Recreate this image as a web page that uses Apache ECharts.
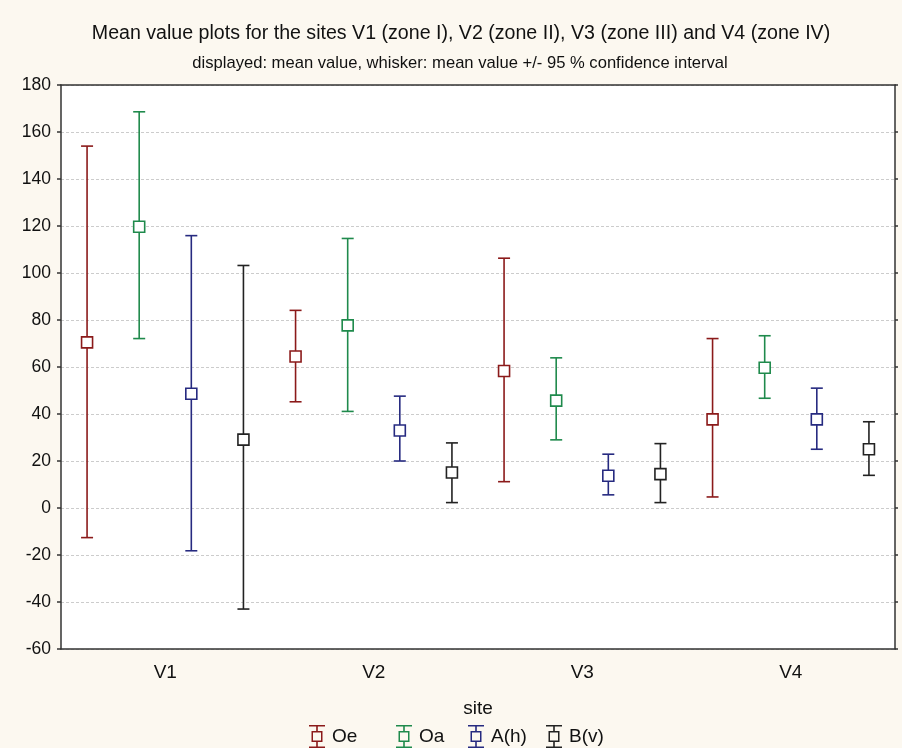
<!DOCTYPE html>
<html><head><meta charset="utf-8">
<script src="https://cdn.jsdelivr.net/npm/echarts@6/dist/echarts.min.js"></script>
<style>html,body{margin:0;padding:0;background:#fcf8f0;}#c{width:902px;height:748px;}</style>
</head><body><div id="c"></div>
<script>
const categories = ['V1', 'V2', 'V3', 'V4'];
const seriesNames = ['Oe', 'Oa', 'A(h)', 'B(v)'];
const seriesColors = ['#8b1a1a', '#1f8a4c', '#262a80', '#222222'];
// [mean, lower, upper] per site
const oeMean = [70.5, 64.5, 58.3, 37.7];
const oeLow  = [-12.6, 45.2, 11.2, 4.7];
const oeHigh = [154, 84.1, 106.3, 72.1];
const oaMean = [119.7, 77.7, 45.7, 59.7];
const oaLow  = [72.1, 41.1, 29.0, 46.7];
const oaHigh = [168.6, 114.7, 63.9, 73.3];
const ahMean = [48.6, 33.0, 13.7, 37.7];
const ahLow  = [-18.2, 20.0, 5.6, 25.0];
const ahHigh = [115.9, 47.6, 22.9, 51.0];
const bvMean = [29.1, 15.1, 14.4, 25.0];
const bvLow  = [-43.0, 2.3, 2.3, 13.9];
const bvHigh = [103.2, 27.7, 27.4, 36.7];
const yTicks = [-60, -40, -20, 0, 20, 40, 60, 80, 100, 120, 140, 160, 180];

const means = [oeMean, oaMean, ahMean, bvMean];
const lows = [oeLow, oaLow, ahLow, bvLow];
const highs = [oeHigh, oaHigh, ahHigh, bvHigh];

const FONT = 'Liberation Sans';
const icon = 'path://M0 0H16V1.6H0Z M7.2 1.6H8.8V6H7.2Z M2.5 6H13.5V17H2.5Z M4 7.5V15.5H12V7.5Z M7.2 17H8.8V21.4H7.2Z M0 21.4H16V23H0Z';

function makeRender(si) {
  return function (params, api) {
    const ci = api.value(0);
    const band = api.size([1, 0])[0];
    const x = api.coord([ci, 0])[0] + (si - 1.5) * band / 4;
    const ym = api.coord([ci, api.value(1)])[1];
    const yl = api.coord([ci, api.value(2)])[1];
    const yh = api.coord([ci, api.value(3)])[1];
    const col = seriesColors[si];
    const cap = 6, half = 5.5;
    const st = { stroke: col, lineWidth: 1.6, fill: null };
    return {
      type: 'group',
      children: [
        { type: 'line', shape: { x1: x, y1: yh, x2: x, y2: ym - half }, style: st },
        { type: 'line', shape: { x1: x, y1: ym + half, x2: x, y2: yl }, style: st },
        { type: 'line', shape: { x1: x - cap, y1: yh, x2: x + cap, y2: yh }, style: st },
        { type: 'line', shape: { x1: x - cap, y1: yl, x2: x + cap, y2: yl }, style: st },
        { type: 'rect', shape: { x: x - half, y: ym - half, width: 2 * half, height: 2 * half },
          style: { stroke: col, lineWidth: 1.6, fill: '#ffffff' } }
      ]
    };
  };
}

const series = seriesNames.map((name, si) => ({
  name: name,
  type: 'custom',
  xAxisIndex: 0,
  yAxisIndex: 0,
  color: seriesColors[si],
  itemStyle: { color: seriesColors[si] },
  renderItem: makeRender(si),
  encode: { x: 0, y: [1, 2, 3] },
  data: categories.map((c, ci) => [ci, means[si][ci], lows[si][ci], highs[si][ci]]),
  z: 5
}));

const legendLefts = [309, 396, 468, 546];
const legends = seriesNames.map((n, i) => ({
  data: [n],
  left: legendLefts[i],
  top: 725,
  icon: icon,
  itemWidth: 16,
  itemHeight: 23,
  itemGap: 8,
  padding: 0,
  selectedMode: false,
  textStyle: { fontFamily: FONT, fontSize: 19, color: '#111', padding: [0, 0, 0, 2] }
}));

const chart = echarts.init(document.getElementById('c'), null, { renderer: 'canvas' });
chart.setOption({
  backgroundColor: '#fcf8f0',
  animation: false,
  title: [
    { text: 'Mean value plots for the sites V1 (zone I), V2 (zone II), V3 (zone III) and V4 (zone IV)',
      left: 461, top: 24, textAlign: 'center', padding: 0,
      textStyle: { fontFamily: FONT, fontSize: 19.6, fontWeight: 'normal', color: '#111' } },
    { text: 'displayed: mean value, whisker: mean value +/- 95 % confidence interval',
      left: 460, top: 55, textAlign: 'center', padding: 0,
      textStyle: { fontFamily: FONT, fontSize: 16.6, fontWeight: 'normal', color: '#111' } }
  ],
  legend: legends,
  grid: { left: 61, right: 7, top: 85, bottom: 99, show: true, backgroundColor: '#ffffff', borderWidth: 0 },
  xAxis: [
    { type: 'category', data: categories, position: 'bottom',
      axisLine: { onZero: false, lineStyle: { color: '#333', width: 1.5 } },
      axisTick: { inside: true, alignWithLabel: true, length: 5, lineStyle: { color: '#333', width: 1.5 } },
      axisLabel: { fontFamily: FONT, fontSize: 19, color: '#111', margin: 14 },
      splitLine: { show: false },
      name: 'site', nameLocation: 'middle', nameGap: 50,
      nameTextStyle: { fontFamily: FONT, fontSize: 19, color: '#111' } },
    { type: 'category', data: categories, position: 'top',
      axisLine: { onZero: false, lineStyle: { color: '#333', width: 1.5 } },
      axisTick: { inside: true, alignWithLabel: true, length: 5, lineStyle: { color: '#333', width: 1.5 } },
      axisLabel: { show: false }, splitLine: { show: false } }
  ],
  yAxis: [
    { type: 'value', min: -60, max: 180, interval: 20, position: 'left',
      axisLine: { show: true, onZero: false, lineStyle: { color: '#333', width: 1.5 } },
      axisTick: { show: true, length: 4, lineStyle: { color: '#333', width: 1.5 } },
      axisLabel: { fontFamily: FONT, fontSize: 17.5, color: '#111', margin: 10,
        formatter: v => (yTicks.indexOf(v) >= 0 ? String(v) : '') },
      splitLine: { show: true, lineStyle: { color: '#cccccc', type: [3, 2], width: 1 } } },
    { type: 'value', min: -60, max: 180, interval: 20, position: 'right',
      axisLine: { show: true, onZero: false, lineStyle: { color: '#333', width: 1.5 } },
      axisTick: { show: true, length: 3, lineStyle: { color: '#333', width: 1.5 } },
      axisLabel: { show: false }, splitLine: { show: false } }
  ],
  series: series
});
</script></body></html>
